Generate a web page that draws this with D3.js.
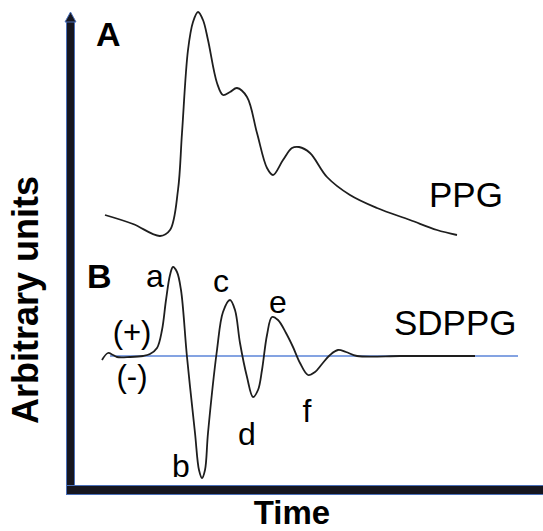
<!DOCTYPE html>
<html>
<head>
<meta charset="utf-8">
<script src="https://cdn.jsdelivr.net/npm/d3@7"></script>
<style>
  body { margin: 0; background: #fff; }
  svg { display: block; font-family: "Liberation Sans", Arial, sans-serif; }
</style>
</head>
<body>
<svg width="543" height="531"></svg>
<script>
// time (arbitrary) and amplitude values
var ppg_t = [35,63,90,100,108,112,118,123,128,133,138,147,153,160,167,177,187,197,203,213,222,229,240,257,280,307,340,367,387]
var ppg_v = [275,266,254,260,300,357,440,468,478,470,450,407,395,398,402,393,357,322,315,330,342,343,337,313,295,282,270,260,255]

var sd_t = [32,38,43,47,60,73,80,87,92,96,100,103,107,111,117,125,129,132,135,138,147,153,160,165,170,177,183,188,192,197,202,208,216,223,230,238,245,252,260,268,276,287,330,360,405]
var sd_v = [-4,3,1,-1,-1,0,2,8,26,56,81,89,84,66,-1,-77,-114,-122,-114,-77,6,44,56,46,13,-21,-41,-34,-14,21,39,36,23,9,-7,-19,-16,-8,1,6,4,0,0,0,0]

var wave_labels = ['a','b','c','d','e','f']
var wave_t = [85,111,151,177,208,237]
var wave_v = [69,-121,64,-89,43,-66]

var svg = d3.select('svg')

var x = d3.scaleLinear().domain([0,450]).range([70,520])
var y = d3.scaleLinear().domain([0,480]).range([490,10])
var ysd = d3.scaleLinear().domain([-134,134]).range([490,222])

var ppgData = ppg_t.map(function(t,i){ return [t, ppg_v[i]] })
var sdData = sd_t.map(function(t,i){ return [t, sd_v[i]] })

// baseline of SDPPG
svg.append('line')
    .attr('x1', x(40)).attr('x2', x(448))
    .attr('y1', ysd(0)).attr('y2', ysd(0))
    .style('stroke', '#5b84d8')
    .style('stroke-width', 1.5)

var ppgLine = d3.line()
    .x(function(d){ return x(d[0]) })
    .y(function(d){ return y(d[1]) })
    .curve(d3.curveCatmullRom.alpha(0.5))

var sdLine = d3.line()
    .x(function(d){ return x(d[0]) })
    .y(function(d){ return ysd(d[1]) })
    .curve(d3.curveCatmullRom.alpha(0.5))

svg.append('path')
    .attr('d', ppgLine(ppgData))
    .style('fill', 'none')
    .style('stroke', '#1e1e1e')
    .style('stroke-width', 1.8)

svg.append('path')
    .attr('d', sdLine(sdData))
    .style('fill', 'none')
    .style('stroke', '#1e1e1e')
    .style('stroke-width', 1.8)

// axes
svg.append('rect')
    .attr('x', 66).attr('y', 20).attr('width', 9).attr('height', 475)
    .style('fill', '#4a6fb8')
svg.append('rect')
    .attr('x', 67).attr('y', 20).attr('width', 7).attr('height', 475)
    .style('fill', '#16161f')
svg.append('path')
    .attr('d', 'M65,22 L70.5,12 L76,22 Z')
    .style('fill', '#16161f')
    .style('stroke', '#4a6fb8')
    .style('stroke-width', 1)
svg.append('rect')
    .attr('x', 66).attr('y', 485).attr('width', 477).attr('height', 10)
    .style('fill', '#4a6fb8')
svg.append('rect')
    .attr('x', 67).attr('y', 486).attr('width', 476).attr('height', 8)
    .style('fill', '#16161f')

// panel letters
svg.append('text').attr('x', 96).attr('y', 46)
    .style('font-size', '34px').style('font-weight', 'bold').text('A')
svg.append('text').attr('x', 87).attr('y', 288)
    .style('font-size', '34px').style('font-weight', 'bold').text('B')

svg.append('text').attr('x', 429).attr('y', 207)
    .style('font-size', '35px').text('PPG')
svg.append('text').attr('x', 394).attr('y', 335)
    .style('font-size', '35px').text('SDPPG')

svg.append('text').attr('x', 132).attr('y', 343).attr('text-anchor','middle')
    .style('font-size', '31px').text('(+)')
svg.append('text').attr('x', 132).attr('y', 387).attr('text-anchor','middle')
    .style('font-size', '31px').text('(-)')

svg.selectAll('.wave')
    .data(wave_labels)
    .enter()
    .append('text')
    .attr('class', 'wave')
    .attr('x', function(d,i){ return x(wave_t[i]) })
    .attr('y', function(d,i){ return ysd(wave_v[i]) })
    .attr('text-anchor', 'middle')
    .style('font-size', '32px')
    .text(function(d){ return d })

svg.append('text').attr('x', 292).attr('y', 524).attr('text-anchor','middle')
    .style('font-size', '33px').style('font-weight', 'bold').text('Time')
svg.append('text')
    .attr('transform', 'translate(38,300) rotate(-90)')
    .attr('text-anchor', 'middle')
    .style('font-size', '36px').style('font-weight', 'bold').text('Arbitrary units')
</script>
</body>
</html>
